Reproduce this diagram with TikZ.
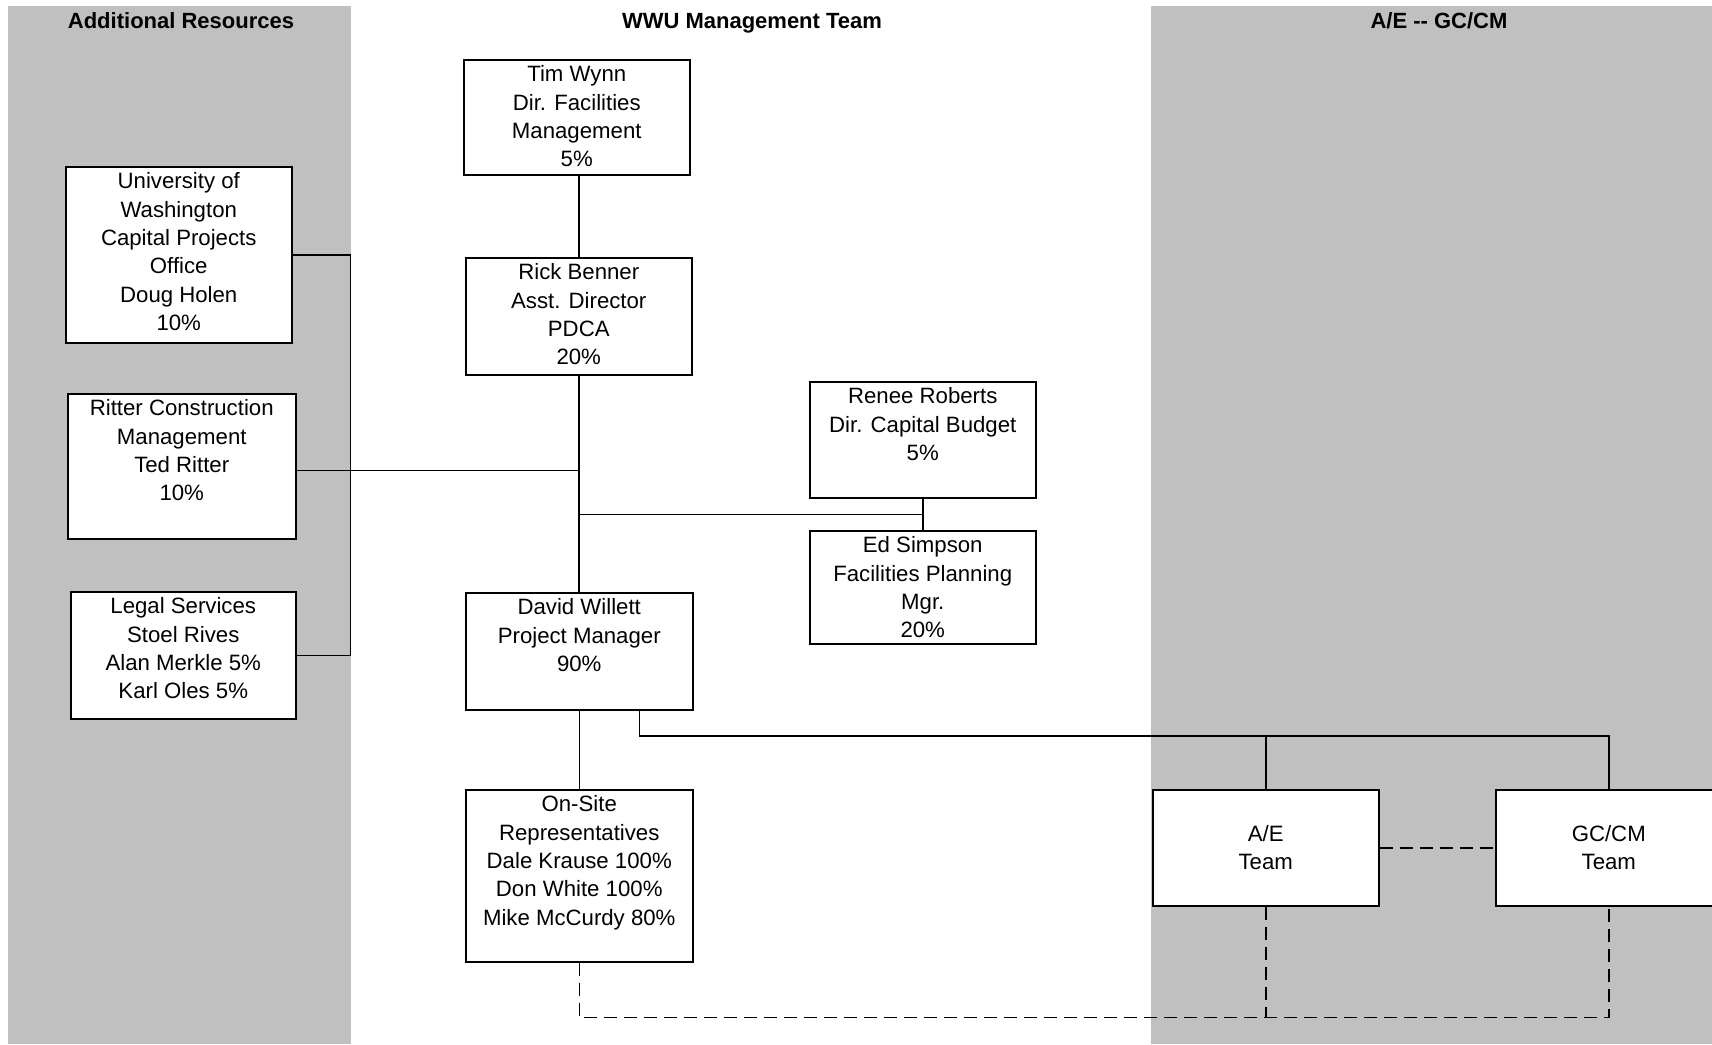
\documentclass[tikz,border=0pt]{standalone}
\usepackage{fontspec}
\setmainfont{Liberation Sans}
\usepackage{tikz}
\usetikzlibrary{calc}
\tikzstyle{band} = [fill={rgb,255:red,192;green,192;blue,192}, draw=none]
\tikzstyle{title} = [font=\bfseries\fontsize{11}{14}\selectfont, text height=8pt, text depth=2.5pt, inner sep=0pt, anchor=center]
\tikzstyle{unit} = [draw, fill=white, line width=0.75pt, inner sep=0pt, anchor=north west]
\tikzstyle{line} = [draw, line width=0.75pt]
\tikzstyle{link} = [draw, line width=0.75pt, dash pattern=on 6.5pt off 3.5pt]
\newcommand{\orgbox}[3]{\parbox[t][#2][t]{#1}{\centering\rule{0pt}{11pt}#3}}
\newcommand{\teambox}[3]{\parbox[t][#2][c]{#1}{\centering #3}}

\begin{document}
\begin{tikzpicture}[x=0.5pt, y=-0.5pt, font=\fontsize{11.1}{14.2}\selectfont]
\useasboundingbox (0,0) rectangle (1712,1044);
% Column bands
    \path [band] (8,6) rectangle (351,1044);
    \path [band] (1151,6) rectangle (1712,1044);
    \node [title] (hres) at (181,23) {Additional Resources};
    \node [title] (hwwu) at (752,23) {WWU Management Team};
    \node [title] (hteam) at (1439,23) {A/E -{}- GC/CM};
% WWU Management Team
    \node [unit] (tim) at (463,59) {\orgbox{113pt}{57.5pt}{Tim Wynn\\Dir. Facilities\\Management\\5\%}};
    \node [unit] (rick) at (465,257) {\orgbox{113pt}{58.5pt}{Rick Benner\\Asst. Director\\PDCA\\20\%}};
    \node [unit] (renee) at (809,381) {\orgbox{113pt}{58pt}{Renee Roberts\\Dir. Capital Budget\\5\%}};
    \node [unit] (ed) at (809,530) {\orgbox{113pt}{56.5pt}{Ed Simpson\\Facilities Planning\\Mgr.\\20\%}};
    \node [unit] (david) at (465,592) {\orgbox{113.5pt}{58.5pt}{David Willett\\Project Manager\\90\%}};
    \node [unit] (onsite) at (465,789) {\orgbox{113.5pt}{86pt}{On-Site\\Representatives\\Dale Krause 100\%\\Don White 100\%\\Mike McCurdy 80\%}};
% Additional Resources
    \node [unit] (uw) at (65,166) {\orgbox{113pt}{88pt}{University of\\Washington\\Capital Projects\\Office\\Doug Holen\\10\%}};
    \node [unit] (ritter) at (67,393) {\orgbox{114pt}{72.5pt}{Ritter Construction\\Management\\Ted Ritter\\10\%}};
    \node [unit] (legal) at (70,591) {\orgbox{112.5pt}{63.5pt}{Legal Services\\Stoel Rives\\Alan Merkle 5\%\\Karl Oles 5\%}};
% A/E -- GC/CM
    \node [unit] (ae) at (1152,789) {\teambox{113pt}{58pt}{A/E\\Team}};
    \node [unit] (gccm) at (1495,789) {\teambox{113pt}{58pt}{GC/CM\\Team}};
% Junctions
    \coordinate (bracket) at (350.5,0);
    \coordinate (fork) at ($(renee.south)!0.5!(ed.north)$);
    \coordinate (teambus) at (0,736);
    \coordinate (sitebus) at (0,1017.5);
% Reporting lines
    \path [line] (rick.north) -- (rick.north |- tim.south);
    \path [line] (rick.south) -- (rick.south |- david.north);
    \path [line] ([yshift=-2pt]ritter.east) -- ([yshift=-2pt]ritter.east -| rick.south);
    \path [line] (uw.east) -- (uw.east -| bracket) |- (legal.east);
    \path [line] (renee.south) -- (ed.north);
    \path [line] (fork) -- (fork -| rick.south);
    \path [line] (david.south) -- (onsite.north);
    \path [line] ([xshift=30pt]david.south) |- (gccm.north |- teambus) -- (gccm.north);
    \path [line] (ae.north |- teambus) -- (ae.north);
% Coordination lines
    \path [link] (ae.east) -- (gccm.west);
    \path [link] (onsite.south) |- (gccm.south |- sitebus) -- (gccm.south);
    \path [link] (ae.south) -- (ae.south |- sitebus);
\end{tikzpicture}
\end{document}
